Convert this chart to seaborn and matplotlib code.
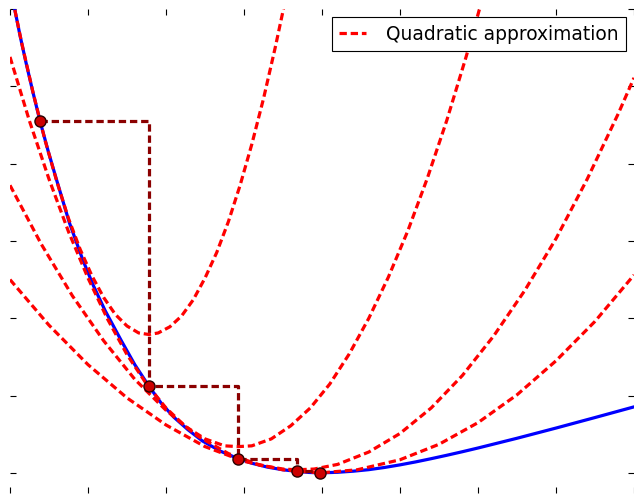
import matplotlib
matplotlib.use("Agg")
import matplotlib.pyplot as plt
import seaborn as sns

# objective function (blue)
curve_x = [0.0, 0.06, 0.13, 0.2, 0.29, 0.385, 0.49, 0.597, 0.76, 0.935, 1.07, 1.219,
           1.427, 1.6, 1.782, 1.94, 2.101, 2.28, 2.464, 2.7, 2.925, 3.1, 3.3, 3.5,
           3.68, 3.83, 3.97, 4.2, 4.4, 4.6, 4.8, 5.0, 5.2, 5.4, 5.6, 5.8, 6.0,
           6.5, 7.0, 7.5, 8.0]
curve_y = [6.32, 6.0, 5.65, 5.33, 4.94, 4.55, 4.16, 3.79, 3.24, 2.75, 2.42, 2.10,
           1.71, 1.40, 1.12, 0.90, 0.72, 0.56, 0.415, 0.28, 0.185, 0.125, 0.075, 0.04,
           0.02, 0.006, 0.0, 0.008, 0.022, 0.042, 0.07, 0.104, 0.142, 0.184, 0.228, 0.274, 0.322,
           0.448, 0.58, 0.716, 0.854]

# Newton iterates
iter_x = [0.385, 1.782, 2.925, 3.68, 3.97]
iter_y = [4.55, 1.12, 0.185, 0.02, 0.0]

# quadratic approximations around each iterate (red dashed)
quad1_x = [0.0, 0.15, 0.3, 0.45, 0.6, 0.75, 0.9, 1.05, 1.2, 1.35, 1.5, 1.65, 1.782,
           1.9, 2.05, 2.2, 2.35, 2.5, 2.65, 2.8, 2.95, 3.1, 3.25, 3.4, 3.55, 3.7]
quad1_y = [6.29, 5.56, 4.90, 4.30, 3.77, 3.29, 2.89, 2.55, 2.27, 2.05, 1.90, 1.81, 1.79,
           1.81, 1.89, 2.03, 2.24, 2.52, 2.85, 3.25, 3.72, 4.25, 4.84, 5.50, 6.21, 7.0]
quad2_x = [0.0, 0.25, 0.5, 0.75, 1.0, 1.25, 1.5, 1.75, 2.0, 2.25, 2.5, 2.75, 2.923,
           3.1, 3.35, 3.6, 3.85, 4.1, 4.35, 4.6, 4.85, 5.1, 5.35, 5.6, 5.85, 6.1]
quad2_y = [5.38, 4.55, 3.80, 3.12, 2.52, 1.99, 1.53, 1.15, 0.84, 0.60, 0.44, 0.35, 0.34,
           0.35, 0.44, 0.61, 0.84, 1.15, 1.54, 2.00, 2.53, 3.13, 3.81, 4.56, 5.39, 6.29]
quad3_x = [0.0, 0.4, 0.8, 1.2, 1.6, 2.0, 2.4, 2.8, 3.2, 3.5, 3.679, 3.9, 4.2, 4.6,
           5.0, 5.4, 5.8, 6.2, 6.6, 7.0, 7.4, 7.8, 8.0]
quad3_y = [3.72, 2.96, 2.29, 1.71, 1.21, 0.81, 0.48, 0.25, 0.10, 0.05, 0.04, 0.05, 0.11, 0.27,
           0.51, 0.84, 1.26, 1.77, 2.36, 3.03, 3.80, 4.65, 5.11]
quad4_x = [0.0, 0.5, 1.0, 1.5, 2.0, 2.5, 3.0, 3.5, 3.974, 4.45, 5.0, 5.5, 6.0, 6.5,
           7.0, 7.5, 8.0]
quad4_y = [2.50, 1.91, 1.40, 0.97, 0.62, 0.34, 0.15, 0.04, 0.00, 0.04, 0.17, 0.37, 0.65, 1.01,
           1.45, 1.96, 2.56]

legend_label = "Quadratic approximation"

sns.set_style("white")

fig = plt.figure(figsize=(6.34, 4.95), dpi=100)
ax = fig.add_axes([10 / 634, 2 / 495, 624 / 634, 484 / 495])

sns.lineplot(x=curve_x, y=curve_y, color="b", lw=2.3, sort=False, ax=ax)

red_lines = []
for qx, qy in [(quad1_x, quad1_y), (quad2_x, quad2_y),
               (quad3_x, quad3_y), (quad4_x, quad4_y)]:
    sns.lineplot(x=qx, y=qy, color="r", lw=2.3, sort=False, ax=ax)
    ln = ax.lines[-1]
    ln.set_dashes((2.3, 1.2))
    red_lines.append(ln)

# Newton steps
step_ln, = ax.step(iter_x, iter_y, where="post", color="darkred", lw=2.3)
step_ln.set_dashes((2.3, 1.2))
ax.plot(iter_x, iter_y, "o", color="#cc0000", markeredgecolor="#2a0000",
        markersize=8, markeredgewidth=1, zorder=5)

ax.set_xlim(0, 8)
ax.set_ylim(-0.26, 6)
ax.set_xticks(range(0, 9))
ax.set_yticks(range(0, 7))
ax.tick_params(direction="in", length=4, width=0.8, colors="k",
               top=True, right=True, bottom=True, left=True,
               labelbottom=False, labelleft=False)
for s in ax.spines.values():
    s.set_visible(False)

leg = ax.legend([red_lines[0]], [legend_label], loc="upper right",
                fontsize=13.4, handlelength=1.45, handletextpad=1.05,
                borderpad=0.4, borderaxespad=0.45, fancybox=False,
                framealpha=1, edgecolor="k")
leg.get_frame().set_linewidth(0.8)
for t in leg.get_texts():
    t.set_color("k")

fig.savefig("out.png", dpi=100)
